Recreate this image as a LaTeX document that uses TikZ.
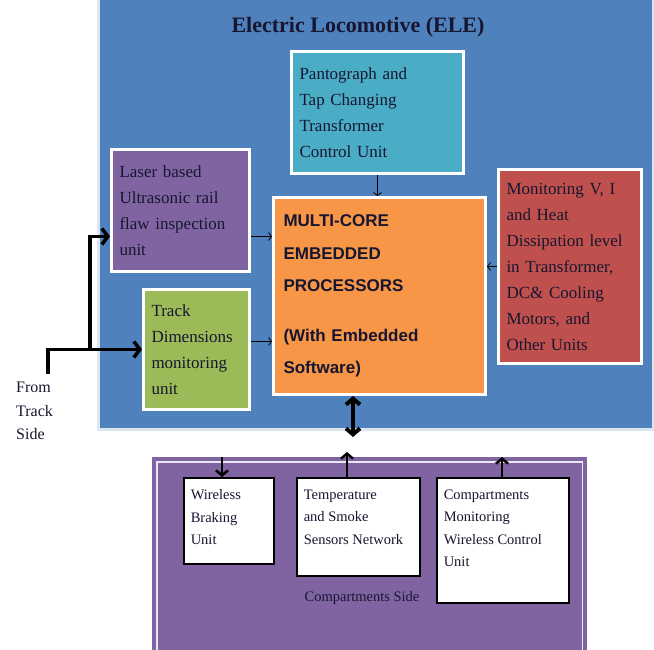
\documentclass[tikz,border=0pt]{standalone}
\usepackage{fontspec}
\setmainfont{Liberation Serif}
\setsansfont{Liberation Sans}
\usetikzlibrary{arrows.meta}
\usetikzlibrary{positioning}

\definecolor{eleblue}{RGB}{79,129,189}
\definecolor{panto}{RGB}{75,172,198}
\definecolor{laserpurple}{RGB}{128,100,162}
\definecolor{dimsgreen}{RGB}{155,187,89}
\definecolor{procorange}{RGB}{247,150,70}
\definecolor{monred}{RGB}{192,80,77}
\definecolor{inkdark}{RGB}{22,22,48}

\begin{document}
\begin{tikzpicture}
[x=1pt,y=-1pt,
  unit/.style={draw=white,line width=3pt,anchor=north west,inner xsep=8pt,inner ysep=4pt,
        align=left,text=inkdark,font=\fontsize{17}{26}\selectfont},
  cell/.style={draw=black,line width=1.5pt,fill=white,anchor=north west,
        inner xsep=7pt,inner ysep=12pt,text=inkdark,font=\fontsize{14.5}{22.5}\selectfont},
  link/.style={-{Straight Barb[length=3pt,width=8pt]},line width=0.8pt},
  feed/.style={-{Straight Barb[length=6pt,width=16pt]},line width=3.5pt},
  bus/.style={{Straight Barb[length=6pt,width=14pt]}-{Straight Barb[length=6pt,width=14pt]},line width=4pt},
  sidearrow/.style={-{Straight Barb[length=5pt,width=12pt]},line width=2.5pt}]

\useasboundingbox (0,0) rectangle (654,650);

% locomotive side
\node[draw=white!80!eleblue,line width=2.5pt,fill=eleblue,anchor=north west,
      minimum width=555pt,minimum height=434pt,inner sep=0pt] (ele) at (97,-6) {};
\node[text=inkdark,font=\bfseries\fontsize{22}{26}\selectfont] (title) at (358,27) {Electric Locomotive (ELE)};

\node[unit,fill=panto,text width=156pt,minimum height=122pt] (panto) at (290,50)
  {Pantograph and\\Tap Changing\\Transformer\\Control Unit};
\node[unit,fill=laserpurple,text width=122pt,minimum height=122pt] (laser) at (110,148)
  {Laser based\\Ultrasonic rail\\flaw inspection\\unit};
\node[unit,fill=dimsgreen,text width=90pt,minimum height=120pt] (dims) at (142,288)
  {Track\\Dimensions\\monitoring\\unit};
\node[unit,fill=procorange,text width=192pt,minimum height=197pt,inner xsep=10pt,
      font=\sffamily\bfseries\fontsize{17}{32.5}\selectfont] (proc) at (272,196)
  {MULTI-CORE\\EMBEDDED\\PROCESSORS\\[17pt](With Embedded\\Software)};
\node[unit,fill=monred,text width=127pt,minimum height=194pt] (monitor) at (497,168)
  {Monitoring V, I\\and Heat\\Dissipation level\\in Transformer,\\DC\& Cooling\\Motors, and\\Other Units};

\node[anchor=north west,inner sep=0pt,align=left,text=inkdark,
      font=\fontsize{16}{23.5}\selectfont] (src) at (16,382) {From\\Track\\Side};

\coordinate (fork) at (90,348);
\coordinate (laserout) at ([yshift=-26pt]laser.east);
\coordinate (dimsout) at ([yshift=8pt]dims.east);
\coordinate (busend) at (353,437);

\draw[feed] ([shift={(32pt,8pt)}]src.north west) |- (dims.west);
\draw[feed] (fork) |- ([yshift=-26pt]laser.west);

\path[link] (laserout) edge (laserout -| proc.west);
\path[link] (dimsout) edge (dimsout -| proc.west);
\path[link] (panto.south) edge (panto.south |- proc.north);
\path[link] (monitor.west) edge (monitor.west -| proc.east);
\path[bus] (proc.south -| busend) edge (busend);

% compartments side
\node[fill=laserpurple,anchor=north west,minimum width=435pt,minimum height=240pt,
      inner sep=0pt] (cside) at (152,457) {};
\draw[white!85!laserpurple,line width=1.2pt] ([xshift=5pt,yshift=-5pt]cside.north west)
  rectangle ([xshift=-5pt,yshift=5pt]cside.south east);

\node[cell] (brake) at (183,477) {\parbox[t][62pt][t]{76pt}{Wireless\\Braking\\Unit}};
\node[cell] (temp) at (296,477) {\parbox[t][74pt][t]{109pt}{Temperature\\and Smoke\\Sensors Network}};
\node[cell] (comp) at (436,477) {\parbox[t][101pt][t]{118pt}{Compartments\\Monitoring\\Wireless Control\\Unit}};
\node[text=inkdark,font=\fontsize{14.5}{20}\selectfont] (cslabel) at (362,598) {Compartments Side};

\coordinate (brakein) at (222,457);
\coordinate (tempout) at (347,452);
\coordinate (compout) at (502,457);

\path[sidearrow] (brakein) edge (brakein |- brake.north);
\path[sidearrow] (tempout |- temp.north) edge (tempout);
\path[sidearrow] (compout |- comp.north) edge (compout);
\end{tikzpicture}
\end{document}
